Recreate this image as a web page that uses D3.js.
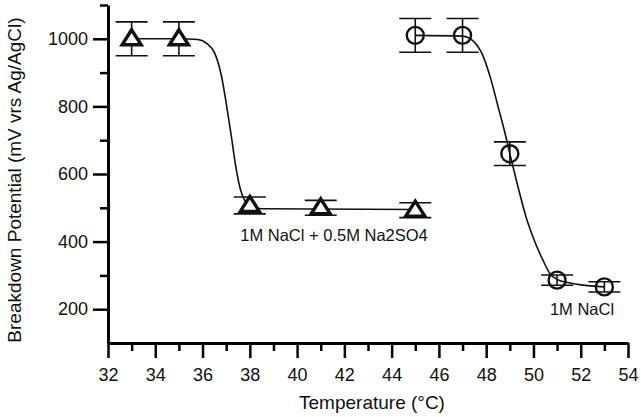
<!DOCTYPE html>
<html>
<head>
<meta charset="utf-8">
<script src="https://cdn.jsdelivr.net/npm/d3@7"></script>
<style>
  body { margin: 0; background: #fff; }
  svg { display: block; font-family: "Liberation Sans", Arial, sans-serif; }
</style>
</head>
<body>
<div id="chart"></div>
<script>
// Na2SO4 series (triangles)
const triTemp = [33, 35, 38, 41, 45];
const triPot = [1000, 1000, 507, 500, 493];
const triErr = [50, 50, 25, 22, 22];
// fitted curve
const triFitTemp = [33, 35, 35.8, 36.2, 36.5, 36.8, 37, 37.2, 37.4, 37.6, 37.8, 38, 38.5, 45];
const triFitPot = [1000, 1000, 998, 985, 960, 890, 810, 720, 625, 555, 520, 505, 497, 495];

// NaCl series (circles)
const circTemp = [45, 47, 49, 51, 53];
const circPot = [1010, 1010, 660, 286, 266];
const circErr = [50, 50, 35, 15, 15];
const circFitTemp = [45, 47, 47.5, 47.8, 48.2, 48.5, 48.8, 49, 49.3, 49.7, 50, 50.4, 50.7, 51, 51.5, 52, 53];
const circFitPot = [1010, 1008, 990, 960, 880, 800, 720, 660, 575, 470, 410, 345, 305, 288, 278, 272, 266];

// axes
const xMajor = [32, 34, 36, 38, 40, 42, 44, 46, 48, 50, 52, 54];
const xMinor = [33, 35, 37, 39, 41, 43, 45, 47, 49, 51, 53];
const yMajor = [200, 400, 600, 800, 1000];
const yMinor = [300, 500, 700, 900, 1100];

const width = 641, height = 417;
const svg = d3.select("#chart").append("svg")
    .attr("width", width)
    .attr("height", height);

const x = d3.scaleLinear().domain([32, 54]).range([108, 628]);
const y = d3.scaleLinear().domain([100, 1100]).range([343, 5]);

// x axis
const gx = svg.append("g").attr("transform", `translate(0,${y(100)})`);
gx.call(d3.axisBottom(x).tickValues(xMajor).tickSize(15).tickPadding(10)
          .tickSizeOuter(0).tickFormat(d3.format("d")));
svg.append("g").attr("transform", `translate(0,${y(100)})`)
   .call(d3.axisBottom(x).tickValues(xMinor).tickSize(8).tickFormat("").tickSizeOuter(0))
   .select(".domain").remove();

// y axis
const gy = svg.append("g").attr("transform", `translate(${x(32)},0)`);
gy.call(d3.axisLeft(y).tickValues(yMajor).tickSize(15).tickPadding(5)
          .tickSizeOuter(0).tickFormat(d3.format("d")));
svg.append("g").attr("transform", `translate(${x(32)},0)`)
   .call(d3.axisLeft(y).tickValues(yMinor).tickSize(8).tickFormat("").tickSizeOuter(0))
   .select(".domain").remove();

svg.selectAll(".domain").attr("stroke-width", 3);
svg.selectAll(".tick line").attr("stroke-width", 2.5);
svg.selectAll(".tick text")
   .attr("font-size", 18)
   .attr("font-family", "Liberation Sans, Arial, sans-serif")
   .attr("fill", "#111");

// fitted curves
const line = d3.line().curve(d3.curveMonotoneX);
svg.append("path")
   .attr("d", line(triFitTemp.map((t, i) => [x(t), y(triFitPot[i])])))
   .attr("fill", "none").attr("stroke", "#111").attr("stroke-width", 1.6);
svg.append("path")
   .attr("d", line(circFitTemp.map((t, i) => [x(t), y(circFitPot[i])])))
   .attr("fill", "none").attr("stroke", "#111").attr("stroke-width", 1.6);

// error bars
function errorBars(temps, pots, errs) {
    const g = svg.append("g").attr("stroke", "#111").attr("stroke-width", 1.6);
    temps.forEach((t, i) => {
        const cx = x(t);
        g.append("line").attr("x1", cx).attr("x2", cx)
         .attr("y1", y(pots[i] + errs[i])).attr("y2", y(pots[i] - errs[i]));
        [pots[i] + errs[i], pots[i] - errs[i]].forEach(v => {
            g.append("line").attr("x1", cx - 16).attr("x2", cx + 16)
             .attr("y1", y(v)).attr("y2", y(v));
        });
    });
}
errorBars(triTemp, triPot, triErr);
errorBars(circTemp, circPot, circErr);

// triangle markers
svg.append("g").selectAll("path")
   .data(triTemp)
   .join("path")
   .attr("d", "M0,-9 L9.5,6 L-9.5,6 Z")
   .attr("transform", (d, i) => `translate(${x(d)},${y(triPot[i])})`)
   .attr("fill", "#fff")
   .attr("stroke", "#111")
   .attr("stroke-width", 3.4)
   .attr("stroke-linejoin", "miter");

// circle markers
svg.append("g").selectAll("circle")
   .data(circTemp)
   .join("circle")
   .attr("cx", d => x(d))
   .attr("cy", (d, i) => y(circPot[i]))
   .attr("r", 8.5)
   .attr("fill", "none")
   .attr("stroke", "#111")
   .attr("stroke-width", 2.4);

// labels
svg.append("text")
   .attr("x", 334).attr("y", 241)
   .attr("text-anchor", "middle")
   .attr("font-size", 16.5).attr("fill", "#111")
   .text("1M NaCl + 0.5M Na2SO4");
svg.append("text")
   .attr("x", 582).attr("y", 315)
   .attr("text-anchor", "middle")
   .attr("font-size", 16.5).attr("fill", "#111")
   .text("1M NaCl");

// axis titles
svg.append("text")
   .attr("x", 372).attr("y", 409)
   .attr("text-anchor", "middle")
   .attr("font-size", 19).attr("fill", "#111")
   .text("Temperature (\u00B0C)");
svg.append("text")
   .attr("transform", "translate(21,180) rotate(-90)")
   .attr("text-anchor", "middle")
   .attr("font-size", 19).attr("fill", "#111")
   .text("Breakdown Potential (mV vrs Ag/AgCl)");
</script>
</body>
</html>
